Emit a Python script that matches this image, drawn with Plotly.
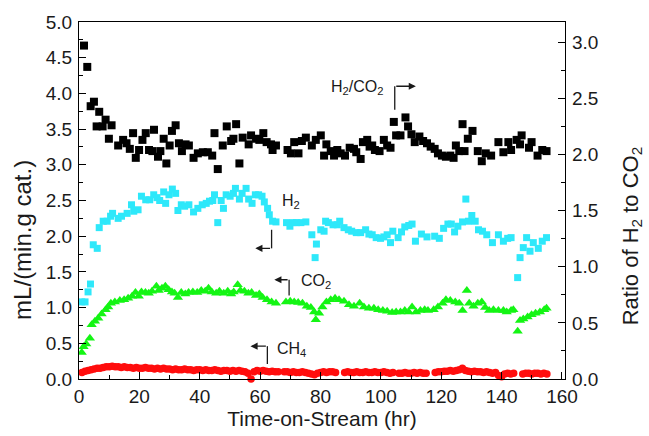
import plotly.graph_objects as go

# ---------------- data ----------------
# H2/CO2 ratio (right axis)
t_ratio = [1.65, 2.74, 3.86, 4.95, 5.84, 6.70, 7.82, 8.81, 9.90, 10.79, 12.97, 14.62, 15.74, 16.83,
           17.92, 18.81, 19.90, 21.02, 22.11, 23.20, 24.32, 24.85, 26.17, 26.96, 28.05, 28.94, 30.03,
           30.79, 32.01, 33.10, 34.09, 35.31, 36.40, 37.95, 39.37, 41.02, 42.67, 44.13, 44.88, 45.97,
           47.62, 48.94, 50.40, 51.16, 52.05, 53.14, 54.22, 56.20, 57.00, 58.65, 59.74, 61.06, 62.15,
           63.60, 64.13, 65.25, 69.08, 70.20, 71.29, 72.71, 73.83, 75.15, 77.13, 78.45, 80.10, 81.19,
           81.95, 83.40, 84.49, 85.58, 86.70, 88.12, 89.67, 91.09, 91.85, 93.30, 94.06, 95.48, 96.27,
           97.13, 98.02, 99.57, 100.99, 102.08, 103.20, 104.29, 105.05, 106.50, 108.15, 109.01, 110.13,
           111.22, 112.77, 114.0, 115.28, 116.5, 117.82, 118.91, 120.23, 121.55, 123.00, 124.09, 124.85,
           125.97, 127.06, 127.72, 128.81, 130.36, 132.11, 133.43, 134.75, 136.53, 138.94, 140.59,
           142.24, 143.14, 144.98, 146.11, 146.63, 149.08, 149.93, 151.91, 153.47, 154.88]
ratio = [2.97, 2.78, 2.43, 2.47, 2.25, 2.38, 2.25, 2.31, 2.14, 2.26, 2.08, 2.13, 2.10, 2.05,
         2.19, 1.97, 2.04, 2.13, 2.19, 2.04, 2.03, 2.22, 1.98, 2.03, 2.14, 1.92, 2.08,
         2.21, 2.26, 2.10, 2.03, 2.09, 2.08, 1.97, 2.01, 2.02, 2.02, 1.99, 2.19, 1.87,
         2.08, 2.25, 2.12, 2.14, 2.27, 1.92, 2.15, 2.09, 2.17, 2.14, 2.13, 2.19, 2.11,
         2.09, 2.04, 2.08, 2.04, 2.01, 2.11, 2.01, 2.12, 2.15, 2.08, 2.13, 2.17, 1.99,
         2.09, 2.03, 1.99, 2.04, 2.01, 1.99, 2.06, 2.05, 2.02, 1.96, 2.11, 2.13, 2.07,
         2.08, 2.04, 2.03, 2.13, 2.08, 2.06, 2.29, 2.17, 2.17, 2.33, 2.25, 2.18,
         2.11, 2.16, 2.12, 2.10, 2.07, 2.05, 2.01, 1.99, 1.98, 1.99, 1.97, 2.08,
         2.03, 2.27, 2.03, 2.14, 2.21, 2.03, 1.94, 2.01, 1.99, 2.11, 2.02,
         2.11, 2.04, 2.13, 2.09, 2.17, 2.06, 2.11, 1.99, 2.04, 2.03]

# H2 (left axis)
t_h2 = [0.9, 2.0, 3.0, 3.8, 4.72, 6.04, 6.70, 8.02, 9.34, 10.46, 11.12, 12.97, 14.09, 15.94, 17.39,
        18.15, 19.57, 20.69, 22.11, 23.43, 24.75, 25.84, 26.73, 28.05, 28.71, 29.80, 30.92, 32.01,
        32.77, 33.89, 34.98, 36.40, 37.95, 39.37, 40.83, 42.15, 43.23, 44.32, 44.88, 45.97, 47.10,
        47.85, 48.75, 50.07, 51.16, 51.82, 53.14, 54.03, 55.35, 56.20, 57.33, 58.42, 59.50, 60.63,
        61.39, 62.48, 63.04, 64.13, 65.25, 68.75, 69.87, 70.96, 72.05, 73.50, 75.15, 77.13, 78.22,
        78.65, 80.10, 81.19, 81.7, 82.61, 84.16, 85.58, 86.37, 87.79, 89.21, 90.33, 91.85, 93.30,
        94.95, 96.04, 97.13, 98.45, 99.90, 100.99, 102.08, 103.20, 103.96, 105.71, 106.83, 107.92,
        109.24, 110.33, 111.45, 113.43, 115.28, 117.82, 119.37, 120.79, 122.21, 123.33, 124.42,
        125.51, 127.06, 128.15, 129.04, 130.13, 131.25, 132.34, 133.66, 135.08, 136.96, 138.94,
        140.59, 142.01, 143.14, 145.31, 146.11, 147.19, 148.28, 149.41, 150.50, 152.15, 153.47, 154.88]
h2 = [1.08, 1.08, 1.22, 1.33, 1.88, 1.83, 2.12, 2.21, 2.21, 2.28, 2.32, 2.25, 2.28, 2.32, 2.44,
      2.35, 2.37, 2.56, 2.51, 2.51, 2.58, 2.54, 2.50, 2.62, 2.46, 2.58, 2.66, 2.60,
      2.36, 2.44, 2.42, 2.44, 2.34, 2.39, 2.44, 2.46, 2.49, 2.50, 2.58, 2.19, 2.50,
      2.39, 2.58, 2.56, 2.60, 2.67, 2.52, 2.60, 2.67, 2.52, 2.46, 2.58, 2.58, 2.56,
      2.48, 2.39, 2.30, 2.21, 2.20, 2.19, 2.14, 2.19, 2.19, 2.19, 2.20, 2.02, 1.70,
      1.89, 2.09, 2.07, 2.21, 2.19, 2.16, 2.16, 2.21, 2.12, 2.09, 2.07, 2.05, 2.05,
      2.09, 2.03, 2.02, 1.98, 1.97, 1.99, 2.02, 1.91, 2.07, 1.98, 2.06, 2.13,
      2.15, 2.17, 1.93, 2.03, 1.99, 2.00, 1.97, 2.11, 2.17, 2.17, 2.06,
      2.14, 2.20, 2.52, 2.21, 2.29, 2.21, 2.09, 2.07, 2.02, 1.91, 2.02,
      1.93, 1.97, 1.98, 1.42, 1.70, 1.84, 1.98, 1.79, 1.91, 1.83, 1.93, 1.98]

# CO2 (left axis)
t_co2 = [0.9, 1.5, 2.4, 3.6, 4.19, 5.28, 6.37, 7.49, 8.81, 9.67, 10.56, 11.88, 13.53, 14.95, 16.27,
         17.59, 18.71, 19.80, 20.69, 22.01, 23.10, 24.19, 25.64, 26.40, 27.49, 28.61, 29.70, 30.79,
         31.68, 32.77, 33.89, 35.21, 36.30, 37.72, 39.17, 40.50, 41.82, 42.90, 43.99, 45.45, 46.53,
         47.95, 49.27, 50.40, 51.25, 52.57, 53.47, 54.79, 56.11, 57.19, 58.65, 59.74, 60.83, 62.28,
         63.80, 65.25, 68.55, 69.97, 71.29, 72.61, 74.03, 75.48, 76.80, 77.89, 78.45, 79.54, 80.63,
         81.95, 83.40, 84.82, 86.14, 87.79, 89.44, 91.09, 92.97, 94.39, 96.04, 97.69, 99.11, 100.66,
         102.08, 103.73, 105.05, 106.50, 107.92, 109.24, 110.33, 111.65, 113.10, 114.52, 115.61,
         117.49, 118.91, 120.46, 121.55, 123.00, 124.65, 125.97, 127.06, 128.48, 129.27, 130.69,
         132.11, 133.43, 134.55, 135.87, 137.29, 138.94, 140.59, 141.68, 143.14, 143.89, 145.31,
         146.11, 147.19, 148.61, 149.93, 151.25, 152.70, 154.13, 154.88]
co2 = [0.37, 0.45, 0.49, 0.57, 0.76, 0.81, 0.85, 0.91, 0.97, 1.01, 1.06, 1.08, 1.10, 1.11, 1.13,
       1.16, 1.21, 1.16, 1.22, 1.21, 1.20, 1.23, 1.30, 1.24, 1.27, 1.30, 1.25, 1.22,
       1.20, 1.14, 1.21, 1.19, 1.21, 1.22, 1.21, 1.24, 1.23, 1.27, 1.22, 1.20, 1.23,
       1.20, 1.23, 1.19, 1.22, 1.32, 1.24, 1.23, 1.20, 1.21, 1.17, 1.19, 1.14, 1.11,
       1.08, 1.06, 1.08, 1.09, 1.08, 1.07, 1.06, 1.02, 1.00, 0.94, 0.83, 0.92, 1.01,
       1.08, 1.11, 1.13, 1.11, 1.09, 1.04, 1.02, 1.06, 1.01, 0.99, 0.99, 0.97, 0.96,
       0.95, 0.93, 0.94, 0.94, 0.96, 0.94, 1.01, 0.94, 0.96, 0.97, 0.96,
       0.97, 1.01, 1.06, 1.11, 1.10, 1.08, 1.06, 0.96, 1.24, 1.06, 1.02,
       1.06, 1.08, 1.00, 0.96, 0.97, 0.96, 0.96, 0.94, 0.96, 0.97, 0.67,
       0.82, 0.84, 0.87, 0.90, 0.92, 0.94, 0.97, 0.99]

# CH4 (left axis)
t_ch4 = [1, 2, 3, 4, 5, 6, 7, 8, 9, 10, 11, 12, 13, 14, 15, 16, 17, 18, 19, 20,
         21, 22, 23, 24, 25, 26, 27, 28, 29, 30, 31, 32, 33, 34, 35, 36, 37, 38, 39, 40,
         41, 42, 43, 44, 45, 46, 47, 48, 49, 50, 51, 52, 53, 54, 55, 56, 57, 58, 59, 60,
         61, 62, 63, 64, 65, 66, 68, 69, 70, 71, 72, 73, 74, 75, 76, 77, 78, 79, 80,
         81, 82, 83, 84, 85, 88, 89, 90, 91, 92, 93, 94, 95, 96, 97, 98, 99, 100,
         101, 102, 103, 104, 106, 107, 108, 109, 110, 111, 112, 113, 114, 115, 118, 119, 120,
         121, 122, 123, 124, 125, 126, 127, 128, 129, 130, 131, 132, 133, 134, 135, 136, 137, 138, 139, 140,
         141, 142, 143, 144, 147, 148, 149, 150, 151, 152, 153, 154, 155]
ch4 = [0.09, 0.11, 0.12, 0.13, 0.14, 0.15, 0.15, 0.16, 0.17, 0.17, 0.18, 0.17, 0.17, 0.16, 0.17, 0.16, 0.16, 0.15, 0.16, 0.15,
       0.15, 0.16, 0.15, 0.15, 0.14, 0.15, 0.14, 0.15, 0.14, 0.14, 0.13, 0.14, 0.13, 0.13, 0.14, 0.13, 0.13, 0.12, 0.13, 0.13,
       0.12, 0.13, 0.12, 0.12, 0.13, 0.12, 0.11, 0.12, 0.12, 0.11, 0.12, 0.11, 0.12, 0.11, 0.10, 0.08, 0.00, 0.10, 0.12, 0.11,
       0.12, 0.11, 0.10, 0.11, 0.10, 0.10, 0.10, 0.10, 0.09, 0.10, 0.09, 0.09, 0.10, 0.09, 0.08, 0.07, 0.06, 0.08, 0.09,
       0.10, 0.09, 0.10, 0.10, 0.09, 0.09, 0.10, 0.09, 0.09, 0.10, 0.09, 0.09, 0.10, 0.09, 0.09, 0.10, 0.09, 0.09,
       0.10, 0.09, 0.08, 0.09, 0.08, 0.08, 0.09, 0.08, 0.08, 0.09, 0.08, 0.09, 0.08, 0.08, 0.09, 0.10, 0.10,
       0.11, 0.11, 0.12, 0.11, 0.12, 0.13, 0.15, 0.12, 0.11, 0.10, 0.11, 0.10, 0.10, 0.09, 0.10, 0.09, 0.08, 0.09, 0.05, 0.03,
       0.07, 0.08, 0.07, 0.08, 0.07, 0.08, 0.08, 0.07, 0.08, 0.08, 0.07, 0.08, 0.07]

x_ticks = [0, 20, 40, 60, 80, 100, 120, 140, 160]
x_title = "Time-on-Stream (hr)"
y_title = "mL/(min.g cat.)"
y2_title = "Ratio of H<sub>2</sub> to CO<sub>2</sub>"

FONT = "Liberation Sans, Arial, sans-serif"
TXT = "#1a1a1a"

fig = go.Figure()
fig.add_trace(go.Scatter(x=t_ch4, y=ch4, mode="markers", name="CH4", cliponaxis=False,
                         marker=dict(symbol="circle", size=7.5, color="#FF0D0D")))
fig.add_trace(go.Scatter(x=t_co2, y=co2, mode="markers", name="CO2",
                         marker=dict(symbol="triangle-up", size=9, color="#14F514")))
fig.add_trace(go.Scatter(x=t_h2, y=h2, mode="markers", name="H2",
                         marker=dict(symbol="square", size=7, color="#2EE8FA")))
fig.add_trace(go.Scatter(x=t_ratio, y=ratio, mode="markers", name="H2/CO2", yaxis="y2",
                         marker=dict(symbol="square", size=8, color="#000000")))

axis_common = dict(showgrid=False, zeroline=False, showline=True, linecolor="black", linewidth=1.3,
                   ticks="inside", ticklen=7, tickwidth=1.2, tickcolor="black",
                   tickfont=dict(family=FONT, size=19, color=TXT))

fig.update_layout(
    width=649, height=436,
    margin=dict(l=79, r=84, t=17, b=56),
    paper_bgcolor="white", plot_bgcolor="white",
    showlegend=False,
    xaxis=dict(range=[0, 161], tickvals=x_ticks, mirror=True,
               minor=dict(dtick=10, tick0=0, ticks="inside", ticklen=4, tickcolor="black"),
               title=dict(text=x_title, font=dict(family=FONT, size=21, color=TXT), standoff=2),
               **axis_common),
    yaxis=dict(range=[0, 5], dtick=0.5, tick0=0, tickformat=".1f", ticklabelstandoff=2,
               minor=dict(dtick=0.25, tick0=0, ticks="inside", ticklen=4, tickcolor="black"),
               **axis_common),
    yaxis2=dict(range=[0, 3.18], dtick=0.5, tick0=0, tickformat=".1f", overlaying="y", side="right",
                ticklabelstandoff=2,
                minor=dict(dtick=0.25, tick0=0, ticks="inside", ticklen=4, tickcolor="black"),
                **axis_common),
)

# axis titles (placed as rotated text)
fig.add_annotation(x=-0.115, y=0.39, xref="paper", yref="paper", text=y_title, textangle=-90,
                   showarrow=False, font=dict(family=FONT, size=24, color=TXT),
                   xanchor="center", yanchor="middle")
fig.add_annotation(x=1.138, y=0.40, xref="paper", yref="paper", text=y2_title, textangle=-90,
                   showarrow=False, font=dict(family=FONT, size=22, color=TXT),
                   xanchor="center", yanchor="middle")

# label + bent-arrow annotations
ann_font = dict(family=FONT, size=16, color=TXT)
labels = [
    ("H<sub>2</sub>/CO<sub>2</sub>", 92.1, 4.08),
    ("H<sub>2</sub>", 70.3, 2.48),
    ("CO<sub>2</sub>", 78.5, 1.36),
    ("CH<sub>4</sub>", 70.5, 0.41),
]
for txt, lx, ly in labels:
    fig.add_annotation(x=lx, y=ly, xref="x", yref="y", text=txt, showarrow=False, font=ann_font,
                       xanchor="center", yanchor="middle")

# (vertical x, y from, y to/bend, arrow head x)
arrows = [
    (104.6, 3.77, 4.10, 111.6),
    (63.8, 2.09, 1.83, 58.4),
    (69.6, 1.17, 1.39, 64.7),
    (62.4, 0.21, 0.46, 56.8),
]
for vx, y0, y1, hx in arrows:
    fig.add_shape(type="line", xref="x", yref="y", x0=vx, x1=vx, y0=y0, y1=y1,
                  line=dict(color=TXT, width=1.3))
    fig.add_annotation(x=hx, y=y1, ax=vx, ay=y1, xref="x", yref="y", axref="x", ayref="y",
                       text="", showarrow=True, arrowhead=2, arrowsize=1.1, arrowwidth=1.3,
                       arrowcolor=TXT, standoff=0, startstandoff=0)

fig.write_html("out.html")
